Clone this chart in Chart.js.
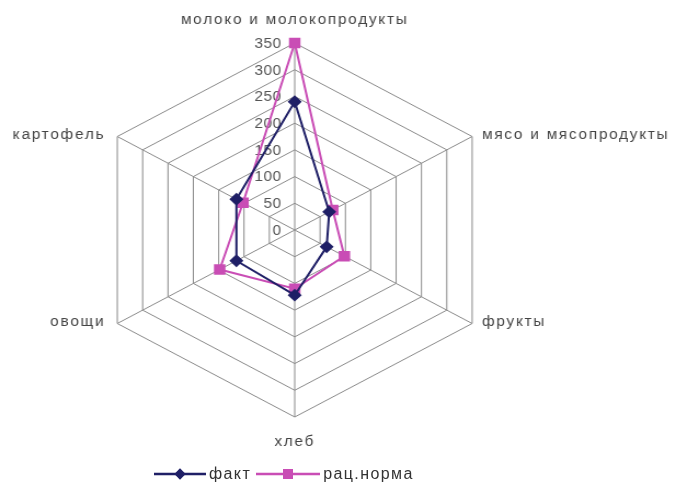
<!DOCTYPE html>
<html>
<head>
<meta charset="utf-8">
<script src="https://cdn.jsdelivr.net/npm/chart.js@4/dist/chart.umd.min.js"></script>
<style>
  body { margin: 0; background: #fff; }
  #page { position: relative; width: 676px; height: 498px; overflow: hidden; background: #fff; }
  /* the original picture is stretched horizontally, so the canvas is too */
  #stretch { position: absolute; left: 0; top: 0; width: 617px; height: 498px; transform: scaleX(1.0956); transform-origin: left top; }
  #legend { position: absolute; left: 154px; top: 465px; display: flex; align-items: center; font-family: "Liberation Sans", Arial, sans-serif; font-size: 16px; letter-spacing: 1.4px; color: #333; }
  #legend span { margin: 0 5px 0 3px; }
  #legend svg { display: block; }
</style>
</head>
<body>
<div id="page">
  <div id="stretch"><canvas id="radarChart" width="617" height="498"></canvas></div>
  <div id="legend"></div>
</div>
<script>
// Data
const categories = ['молоко и молокопродукты', 'мясо и мясопродукты', 'фрукты', 'хлеб', 'овощи', 'картофель'];
const factValues = [240, 68, 63, 122, 115, 115];
const normValues = [350, 75, 98, 110, 148, 102];
const seriesNames = ['факт', 'рац.норма'];
const tickMin = 0;
const tickMax = 350;
const tickStep = 50;

const factColor = '#1f1f66';
const normColor = '#c94db5';

// draw tick numbers to the left of the top axis, under the lines
const tickLabelsPlugin = {
    id: 'tickLabels',
    beforeDatasetsDraw(chart) {
        const scale = chart.scales.r;
        const ctx = chart.ctx;
        ctx.save();
        ctx.font = '14px "Liberation Sans", Arial, sans-serif';
        ctx.letterSpacing = '0.5px';
        ctx.fillStyle = '#555';
        ctx.textAlign = 'right';
        ctx.textBaseline = 'middle';
        scale.ticks.forEach(t => {
            const p = scale.getPointPositionForValue(0, t.value);
            ctx.fillText(String(t.value), p.x - 12, p.y + 1);
        });
        ctx.restore();
    }
};

// category names around the web
const pointLabelsPlugin = {
    id: 'pointNames',
    afterDraw(chart) {
        const scale = chart.scales.r;
        const ctx = chart.ctx;
        ctx.save();
        ctx.font = '14px "Liberation Sans", Arial, sans-serif';
        ctx.letterSpacing = '1.6px';
        ctx.fillStyle = '#444';
        ctx.textBaseline = 'middle';
        chart.data.labels.forEach((label, i) => {
            const p = scale.getPointPositionForValue(i, scale.max);
            const a = scale.getIndexAngle(i);
            const s = Math.sin(a), c = Math.cos(a);
            let x = p.x, y = p.y;
            if (Math.abs(s) < 0.01) {
                ctx.textAlign = 'center';
                y = c > 0 ? p.y - 23 : p.y + 25;
            } else if (s > 0) {
                ctx.textAlign = 'left';
                x = p.x + 9;
                y = p.y - 1;
            } else {
                ctx.textAlign = 'right';
                x = p.x - 11;
                y = p.y - 1;
            }
            ctx.fillText(label, x, y);
        });
        ctx.restore();
    }
};

const data = {
    labels: categories,
    datasets: [{
        label: seriesNames[0],
        data: factValues,
        borderColor: factColor,
        backgroundColor: factColor,
        pointBackgroundColor: factColor,
        pointBorderColor: factColor,
        pointStyle: 'rectRot',
        pointRadius: 5,
        borderWidth: 2,
        fill: false
    }, {
        label: seriesNames[1],
        data: normValues,
        borderColor: normColor,
        backgroundColor: normColor,
        pointBackgroundColor: normColor,
        pointBorderColor: normColor,
        pointStyle: 'rect',
        pointRadius: 6,
        borderWidth: 2,
        fill: false
    }]
};

const config = {
    type: 'radar',
    data: data,
    options: {
        responsive: false,
        animation: false,
        layout: { padding: { left: 82, right: 161, top: 43, bottom: 81 } },
        elements: { line: { tension: 0 } },
        plugins: {
            legend: { display: false },
            tooltip: { enabled: false }
        },
        scales: {
            r: {
                min: tickMin,
                max: tickMax,
                ticks: { stepSize: tickStep, display: false },
                grid: { color: '#8a8a8a', lineWidth: 1 },
                angleLines: { color: '#8a8a8a', lineWidth: 1 },
                pointLabels: { display: false }
            }
        }
    },
    plugins: [tickLabelsPlugin, pointLabelsPlugin]
};

const myRadarChart = new Chart(document.getElementById('radarChart'), config);

// legend: line with marker, like the original
const legend = document.getElementById('legend');
data.datasets.forEach((ds, i) => {
    const w = i === 0 ? 52 : 64;
    const m = w / 2;
    const marker = ds.pointStyle === 'rect'
        ? `<rect x="${m - 5}" y="3" width="10" height="10" fill="${ds.borderColor}"/>`
        : `<rect x="${m - 4}" y="4" width="8" height="8" fill="${ds.borderColor}" transform="rotate(45 ${m} 8)"/>`;
    legend.insertAdjacentHTML('beforeend',
        `<svg width="${w}" height="16"><line x1="0" y1="8" x2="${w}" y2="8" stroke="${ds.borderColor}" stroke-width="2.5"/>${marker}</svg><span>${ds.label}</span>`);
});
</script>
</body>
</html>
